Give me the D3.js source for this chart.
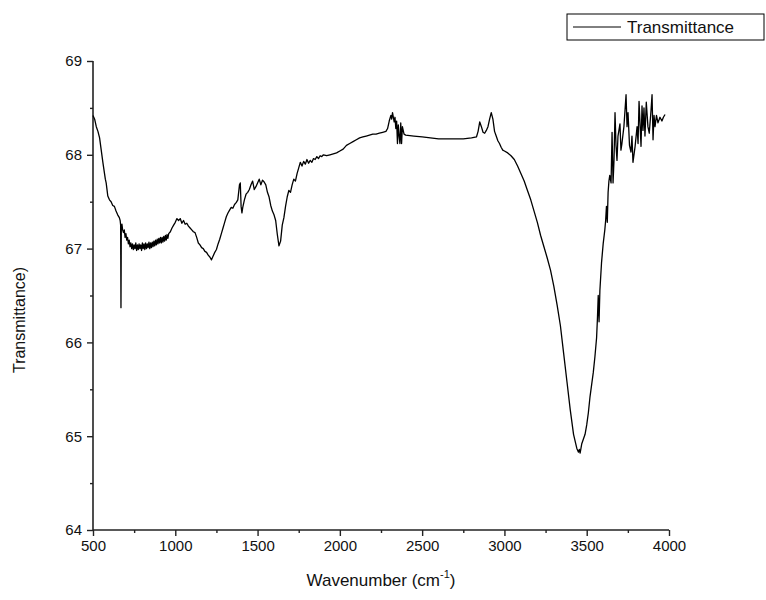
<!DOCTYPE html>
<html>
<head>
<meta charset="utf-8">
<script src="https://cdn.jsdelivr.net/npm/d3@7/dist/d3.min.js"></script>
<style>
  body { margin: 0; background: #fff; }
  svg { display: block; font-family: "Liberation Sans", Arial, sans-serif; }
</style>
</head>
<body>
<svg id="chart" width="766" height="600"></svg>
<script>
const wavenumber = [
  500,510,520,530,540,550,560,570,575,580,590,600,610,620,630,640,650,660,665,668,670,672,676,680,685,690,695,700,705,710,715,720,725,730,735,740,745,750,755,760,765,770,775,780,785,790,795,800,805,810,815,820,825,830,835,840,845,850,855,860,865,870,875,880,885,890,895,900,905,910,915,920,925,930,935,940,945,950,955,960,970,980,990,1000,1010,1020,1030,1040,1050,1060,1070,1080,1090,1100,1110,1120,1130,1140,1150,1160,1170,1180,1190,1200,1210,1220,1230,1240,1250,1260,1270,1280,1290,1300,1310,1320,1330,1340,1350,1360,1370,1380,1390,1395,1400,1405,1410,1420,1430,1440,1450,1460,1470,1480,1490,1500,1510,1520,1530,1540,1550,1560,1570,1580,1590,1600,1610,1620,1630,1640,1650,1660,1670,1680,1690,1700,1710,1720,1730,1740,1750,1760,1770,1780,1790,1800,1810,1820,1830,1840,1850,1860,1870,1880,1890,1900,1920,1940,1960,1980,2000,2020,2040,2060,2080,2100,2120,2140,2160,2180,2200,2220,2240,2260,2280,2290,2300,2310,2315,2320,2330,2335,2340,2345,2350,2355,2360,2365,2370,2375,2380,2390,2400,2450,2500,2550,2600,2650,2700,2750,2800,2830,2840,2850,2860,2870,2880,2890,2900,2910,2920,2930,2940,2950,2960,2970,2980,2990,3000,3020,3040,3060,3080,3100,3120,3140,3160,3180,3200,3220,3240,3260,3280,3300,3320,3340,3360,3380,3400,3420,3440,3450,3455,3460,3470,3480,3490,3500,3510,3520,3530,3540,3550,3560,3565,3570,3575,3580,3590,3600,3610,3615,3620,3625,3630,3635,3640,3648,3654,3660,3666,3672,3678,3684,3690,3702,3708,3714,3726,3739,3745,3751,3760,3769,3775,3781,3794,3806,3812,3818,3830,3836,3842,3848,3854,3862,3872,3880,3891,3897,3903,3909,3915,3924,3933,3945,3957,3966,3976,3988,4000
];
const transmittance = [
  68.42,68.38,68.30,68.25,68.18,68.05,67.92,67.80,67.74,67.70,67.56,67.52,67.50,67.46,67.45,67.40,67.36,67.33,67.30,67.25,66.37,67.22,67.26,67.20,67.17,67.20,67.12,67.16,67.09,67.12,67.05,67.09,67.02,67.06,67.00,67.05,66.99,67.04,67.00,67.06,66.98,67.04,66.99,67.05,67.00,67.04,66.98,67.06,67.00,67.05,66.99,67.06,67.00,67.05,67.01,67.07,67.00,67.06,67.01,67.07,67.02,67.08,67.03,67.09,67.04,67.10,67.05,67.11,67.06,67.12,67.06,67.12,67.07,67.13,67.08,67.14,67.09,67.15,67.11,67.16,67.18,67.22,67.25,67.28,67.32,67.30,67.32,67.27,67.30,67.26,67.27,67.24,67.22,67.20,67.18,67.17,67.12,67.06,67.04,67.01,67.00,66.97,66.96,66.93,66.91,66.88,66.92,66.96,66.99,67.05,67.10,67.16,67.22,67.28,67.34,67.38,67.41,67.44,67.43,67.47,67.49,67.52,67.68,67.70,67.45,67.38,67.44,67.52,67.58,67.60,67.63,67.68,67.72,67.63,67.66,67.70,67.74,67.68,67.73,67.71,67.68,67.60,67.55,67.46,67.40,67.36,67.30,67.15,67.03,67.08,67.25,67.33,67.45,67.55,67.62,67.60,67.68,67.74,67.72,67.80,67.86,67.92,67.88,67.93,67.90,67.95,67.91,67.94,67.92,67.96,67.95,67.98,67.96,67.99,67.98,68.00,67.99,68.00,68.01,68.02,68.04,68.06,68.10,68.12,68.14,68.16,68.18,68.19,68.20,68.21,68.22,68.22,68.23,68.24,68.25,68.28,68.36,68.42,68.38,68.45,68.35,68.40,68.28,68.36,68.12,68.32,68.20,68.12,68.34,68.12,68.30,68.22,68.21,68.20,68.19,68.18,68.17,68.17,68.17,68.17,68.18,68.19,68.25,68.35,68.30,68.24,68.23,68.26,68.30,68.38,68.45,68.38,68.25,68.20,68.15,68.12,68.08,68.05,68.04,68.02,67.99,67.95,67.88,67.80,67.72,67.62,67.52,67.40,67.28,67.14,67.02,66.90,66.77,66.60,66.40,66.18,65.88,65.58,65.28,65.02,64.87,64.83,64.86,64.82,64.92,64.97,65.02,65.12,65.25,65.42,65.55,65.68,65.85,66.05,66.25,66.50,66.22,66.55,66.85,67.05,67.20,67.30,67.45,67.28,67.60,67.72,67.78,67.70,68.24,67.70,67.95,68.45,68.10,67.94,68.20,68.33,68.05,68.12,68.30,68.64,68.30,68.45,68.10,68.03,68.20,67.92,68.09,68.30,68.12,68.57,68.09,68.52,68.26,68.50,68.20,68.56,68.30,68.23,68.48,68.64,68.16,68.42,68.30,68.42,68.34,68.40,68.36,68.40,68.43
];
const xTicks = [500,1000,1500,2000,2500,3000,3500,4000];
const yTicks = [64,65,66,67,68,69];
const seriesName = "Transmittance";

const svg = d3.select("#chart");
const L = 93, R = 669, T = 61, B = 530;
const x = d3.scaleLinear().domain([500, 4000]).range([L, R]);
const y = d3.scaleLinear().domain([64, 69]).range([B, T]);

const data = wavenumber.map((w, i) => [w, transmittance[i]]);

const xMinor = d3.range(750, 4000, 500);
const yMinor = d3.range(64.5, 69, 1);

const gx = svg.append("g").attr("transform", `translate(0,${B})`);
gx.call(d3.axisBottom(x).tickValues(xTicks).tickSize(6).tickPadding(4).tickFormat(d3.format("d")));
gx.append("g").call(d3.axisBottom(x).tickValues(xMinor).tickSize(3).tickFormat(""))
  .select(".domain").remove();

const gy = svg.append("g").attr("transform", `translate(${L},0)`);
gy.call(d3.axisLeft(y).tickValues(yTicks).tickSize(6).tickPadding(5).tickFormat(d3.format("d")));
gy.append("g").call(d3.axisLeft(y).tickValues(yMinor).tickSize(3).tickFormat(""))
  .select(".domain").remove();

svg.selectAll(".domain").attr("stroke", "#222").attr("stroke-width", 1.6);
gx.select(".domain").attr("d", `M${L},0H${R}`);
gy.select(".domain").attr("d", `M0,${B}V${T}`);
svg.selectAll(".tick line").attr("stroke", "#222").attr("stroke-width", 1.4);
svg.selectAll(".tick text").attr("font-size", 15).attr("fill", "#111")
  .attr("font-family", "'Liberation Sans', Arial, sans-serif");

svg.append("path").datum(data)
  .attr("fill", "none").attr("stroke", "#000").attr("stroke-width", 1.3)
  .attr("stroke-linejoin", "round")
  .attr("d", d3.line().x(d => x(d[0])).y(d => y(d[1])));

const xl = svg.append("text").attr("x", 381).attr("y", 586).attr("text-anchor", "middle")
  .attr("font-size", 17).attr("fill", "#111");
xl.append("tspan").text("Wavenumber (cm");
xl.append("tspan").attr("font-size", 11).attr("dy", -8).text("-1");
xl.append("tspan").attr("dy", 8).text(")");

svg.append("text").attr("transform", "translate(25,320) rotate(-90)")
  .attr("text-anchor", "middle").attr("font-size", 16).attr("fill", "#111")
  .text("Transmittance)");

const lg = svg.append("g");
lg.append("rect").attr("x", 567).attr("y", 14).attr("width", 197).attr("height", 26)
  .attr("fill", "#fff").attr("stroke", "#000").attr("stroke-width", 1);
lg.append("line").attr("x1", 573).attr("x2", 621).attr("y1", 27).attr("y2", 27)
  .attr("stroke", "#000").attr("stroke-width", 1);
lg.append("text").attr("x", 627).attr("y", 33).attr("font-size", 17).attr("fill", "#111")
  .text(seriesName);
</script>
</body>
</html>
